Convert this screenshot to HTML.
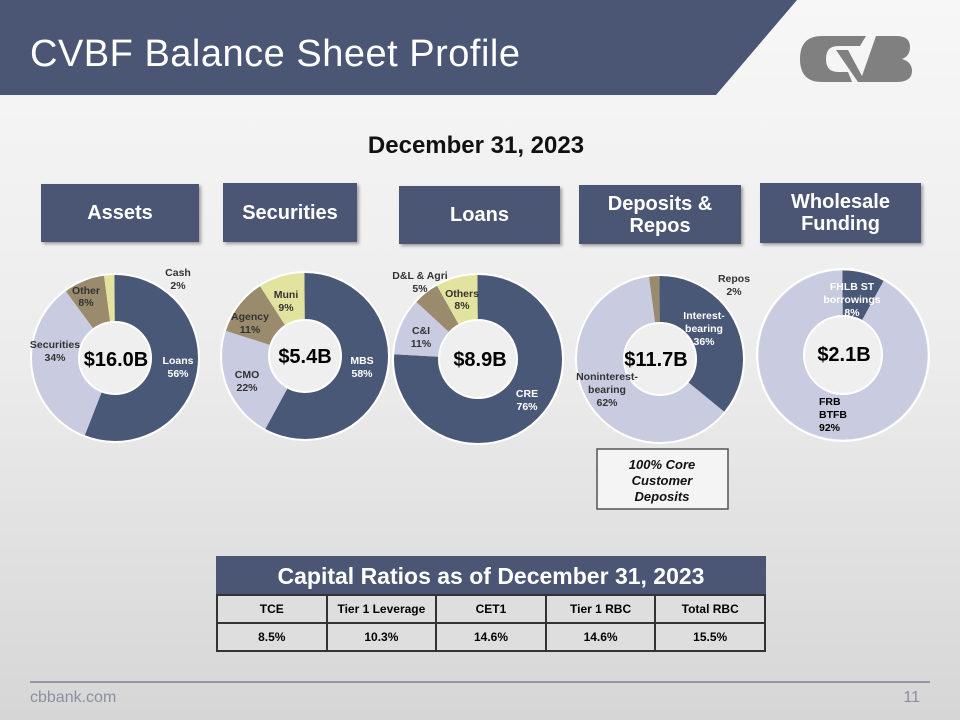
<!DOCTYPE html>
<html><head><meta charset="utf-8"><style>
body{margin:0;width:960px;height:720px;overflow:hidden;font-family:"Liberation Sans",sans-serif;}
.bg{position:absolute;left:0;top:0;width:960px;height:720px;background:linear-gradient(180deg,#f7f7f7 0%,#ececec 50%,#d6d6d6 100%);}
.box{position:absolute;background:#4a5674;color:#fff;font-weight:bold;font-size:20px;text-align:center;display:flex;align-items:center;justify-content:center;line-height:22px;box-shadow:2px 2px 3px rgba(0,0,0,.35);}
.t{font-family:"Liberation Sans",sans-serif;font-weight:bold;}
table{position:absolute;left:216px;top:594px;width:550px;border-collapse:collapse;font-family:"Liberation Sans",sans-serif;font-size:12px;font-weight:bold;}
td{border:2px solid #333;background:#dedede;text-align:center;height:26px;padding:0;width:20%;}
</style></head><body>
<div class="bg"></div>
<svg width="960" height="720" style="position:absolute;left:0;top:0">
<polygon points="0,0 797,0 716,95 0,95" fill="#4a5674"/>
<text x="30" y="66" fill="#fff" font-size="38" font-family="Liberation Sans" textLength="490">CVBF Balance Sheet Profile</text>
<g fill="#808080">
<path d="M822,36 H866 L860,46 H838 Q826,46 826,59 Q826,72 838,72 H848 L852,82 H822 Q800,82 800,59 Q800,36 822,36Z"/>
<path d="M836,50 H848 L862,76 L876,36 H896 Q910,36 910,47 Q910,56 902,59 Q912,62 912,71 Q912,82 896,82 H866 L858,82Z"/>
</g>
<text x="476" y="153" text-anchor="middle" font-size="24" font-weight="bold" font-family="Liberation Sans" fill="#111">December 31, 2023</text>
<g stroke-width="47" fill="none">
<g transform="translate(115,358) rotate(-90)">
<circle r="60" pathLength="100" stroke="#4a5878" stroke-dasharray="56 44"/>
<circle r="60" pathLength="100" stroke="#c9cbe0" stroke-dasharray="34 66" stroke-dashoffset="-56"/>
<circle r="60" pathLength="100" stroke="#9a8b6c" stroke-dasharray="8 92" stroke-dashoffset="-90"/>
<circle r="60" pathLength="100" stroke="#e3e3a0" stroke-dasharray="2 98" stroke-dashoffset="-98"/>
</g>
<g transform="translate(305,356) rotate(-90)">
<circle r="60" pathLength="100" stroke="#4a5878" stroke-dasharray="58 42"/>
<circle r="60" pathLength="100" stroke="#c9cbe0" stroke-dasharray="22 78" stroke-dashoffset="-58"/>
<circle r="60" pathLength="100" stroke="#9a8b6c" stroke-dasharray="11 89" stroke-dashoffset="-80"/>
<circle r="60" pathLength="100" stroke="#e3e3a0" stroke-dasharray="9 91" stroke-dashoffset="-91"/>
</g>
<g transform="translate(478,359) rotate(-90)">
<circle r="62" pathLength="100" stroke="#4a5878" stroke-width="45" stroke-dasharray="76 24"/>
<circle r="62" pathLength="100" stroke="#c9cbe0" stroke-width="45" stroke-dasharray="11 89" stroke-dashoffset="-76"/>
<circle r="62" pathLength="100" stroke="#9a8b6c" stroke-width="45" stroke-dasharray="5 95" stroke-dashoffset="-87"/>
<circle r="62" pathLength="100" stroke="#e3e3a0" stroke-width="45" stroke-dasharray="8 92" stroke-dashoffset="-92"/>
</g>
<g transform="translate(660,359) rotate(-90)">
<circle r="60" pathLength="100" stroke="#4a5878" stroke-dasharray="36 64"/>
<circle r="60" pathLength="100" stroke="#c9cbe0" stroke-dasharray="62 38" stroke-dashoffset="-36"/>
<circle r="60" pathLength="100" stroke="#9a8b6c" stroke-dasharray="2 98" stroke-dashoffset="-98"/>
</g>
<g transform="translate(843,355) rotate(-90)">
<circle r="62" pathLength="100" stroke="#4a5878" stroke-width="45" stroke-dasharray="8 92"/>
<circle r="62" pathLength="100" stroke="#c9cbe0" stroke-width="45" stroke-dasharray="92 8" stroke-dashoffset="-8"/>
</g>
</g>
<g fill="none" stroke="#fff" stroke-width="2">
<circle cx="115" cy="358" r="84"/><circle cx="305" cy="356" r="84"/><circle cx="478" cy="359" r="85"/><circle cx="660" cy="359" r="84"/><circle cx="843" cy="355" r="86"/>
</g>
<g fill="#efefef" stroke="#fff" stroke-width="2">
<circle cx="115" cy="358" r="36"/><circle cx="305" cy="356" r="36"/><circle cx="478" cy="359" r="39"/><circle cx="660" cy="359" r="36"/><circle cx="843" cy="355" r="39"/>
</g>
<g class="t" font-size="20" text-anchor="middle" fill="#000">
<text x="116" y="366">$16.0B</text><text x="305" y="363">$5.4B</text><text x="480" y="366">$8.9B</text><text x="656" y="366">$11.7B</text><text x="844" y="361">$2.1B</text>
</g>
<g class="t" font-size="10.5" text-anchor="middle" fill="#333">
<text x="178" y="276">Cash</text><text x="178" y="289">2%</text>
<text x="86" y="294">Other</text><text x="86" y="306">8%</text>
<text x="55" y="348">Securities</text><text x="55" y="361">34%</text>
<text fill="#fff" x="178" y="364">Loans</text><text fill="#fff" x="178" y="377">56%</text>
<text x="286" y="298">Muni</text><text x="286" y="311">9%</text>
<text x="250" y="320">Agency</text><text x="250" y="333">11%</text>
<text x="247" y="378">CMO</text><text x="247" y="391">22%</text>
<text fill="#fff" x="362" y="364">MBS</text><text fill="#fff" x="362" y="377">58%</text>
<text x="420" y="279">D&amp;L &amp; Agri</text><text x="420" y="292">5%</text>
<text x="462" y="297">Others</text><text x="462" y="309">8%</text>
<text x="421" y="334">C&amp;I</text><text x="421" y="347">11%</text>
<text fill="#fff" x="527" y="397">CRE</text><text fill="#fff" x="527" y="410">76%</text>
<text x="734" y="282">Repos</text><text x="734" y="295">2%</text>
<text fill="#fff" x="704" y="319">Interest-</text><text fill="#fff" x="704" y="332">bearing</text><text fill="#fff" x="704" y="345">36%</text>
<text x="607" y="380">Noninterest-</text><text x="607" y="393">bearing</text><text x="607" y="406">62%</text>
<text fill="#fff" x="852" y="290">FHLB ST</text><text fill="#fff" x="852" y="303">borrowings</text><text fill="#fff" x="852" y="316">8%</text>
<text fill="#000" x="819" y="405" text-anchor="start">FRB</text><text fill="#000" x="819" y="418" text-anchor="start">BTFB</text><text fill="#000" x="819" y="431" text-anchor="start">92%</text>
</g>
<rect x="597" y="449" width="131" height="60" fill="#f4f4f4" stroke="#555" stroke-width="1.5"/>
<g class="t" font-size="13" font-style="italic" text-anchor="middle" fill="#111">
<text x="662" y="469">100% Core</text><text x="662" y="485">Customer</text><text x="662" y="501">Deposits</text>
</g>
<rect x="216" y="556" width="550" height="38" fill="#4a5674"/>
<text x="491" y="584" text-anchor="middle" fill="#fff" font-size="23" font-family="Liberation Sans" font-weight="bold">Capital Ratios as of December 31, 2023</text>
<line x1="30" y1="682" x2="930" y2="682" stroke="#4a5674" stroke-width="1"/>
<text x="30" y="702" fill="#8a8fa3" font-size="16" font-family="Liberation Sans">cbbank.com</text>
<text x="920" y="702" fill="#8a8fa3" font-size="16" font-family="Liberation Sans" text-anchor="end">11</text>
</svg>
<div class="box" style="left:41px;top:184px;width:158px;height:58px">Assets</div>
<div class="box" style="left:223px;top:183px;width:134px;height:59px">Securities</div>
<div class="box" style="left:399px;top:186px;width:161px;height:58px">Loans</div>
<div class="box" style="left:579px;top:185px;width:162px;height:59px">Deposits &amp;<br>Repos</div>
<div class="box" style="left:760px;top:183px;width:161px;height:60px">Wholesale<br>Funding</div>
<table><tr><td>TCE</td><td>Tier 1 Leverage</td><td>CET1</td><td>Tier 1 RBC</td><td>Total RBC</td></tr>
<tr><td>8.5%</td><td>10.3%</td><td>14.6%</td><td>14.6%</td><td>15.5%</td></tr></table>
</body></html>
